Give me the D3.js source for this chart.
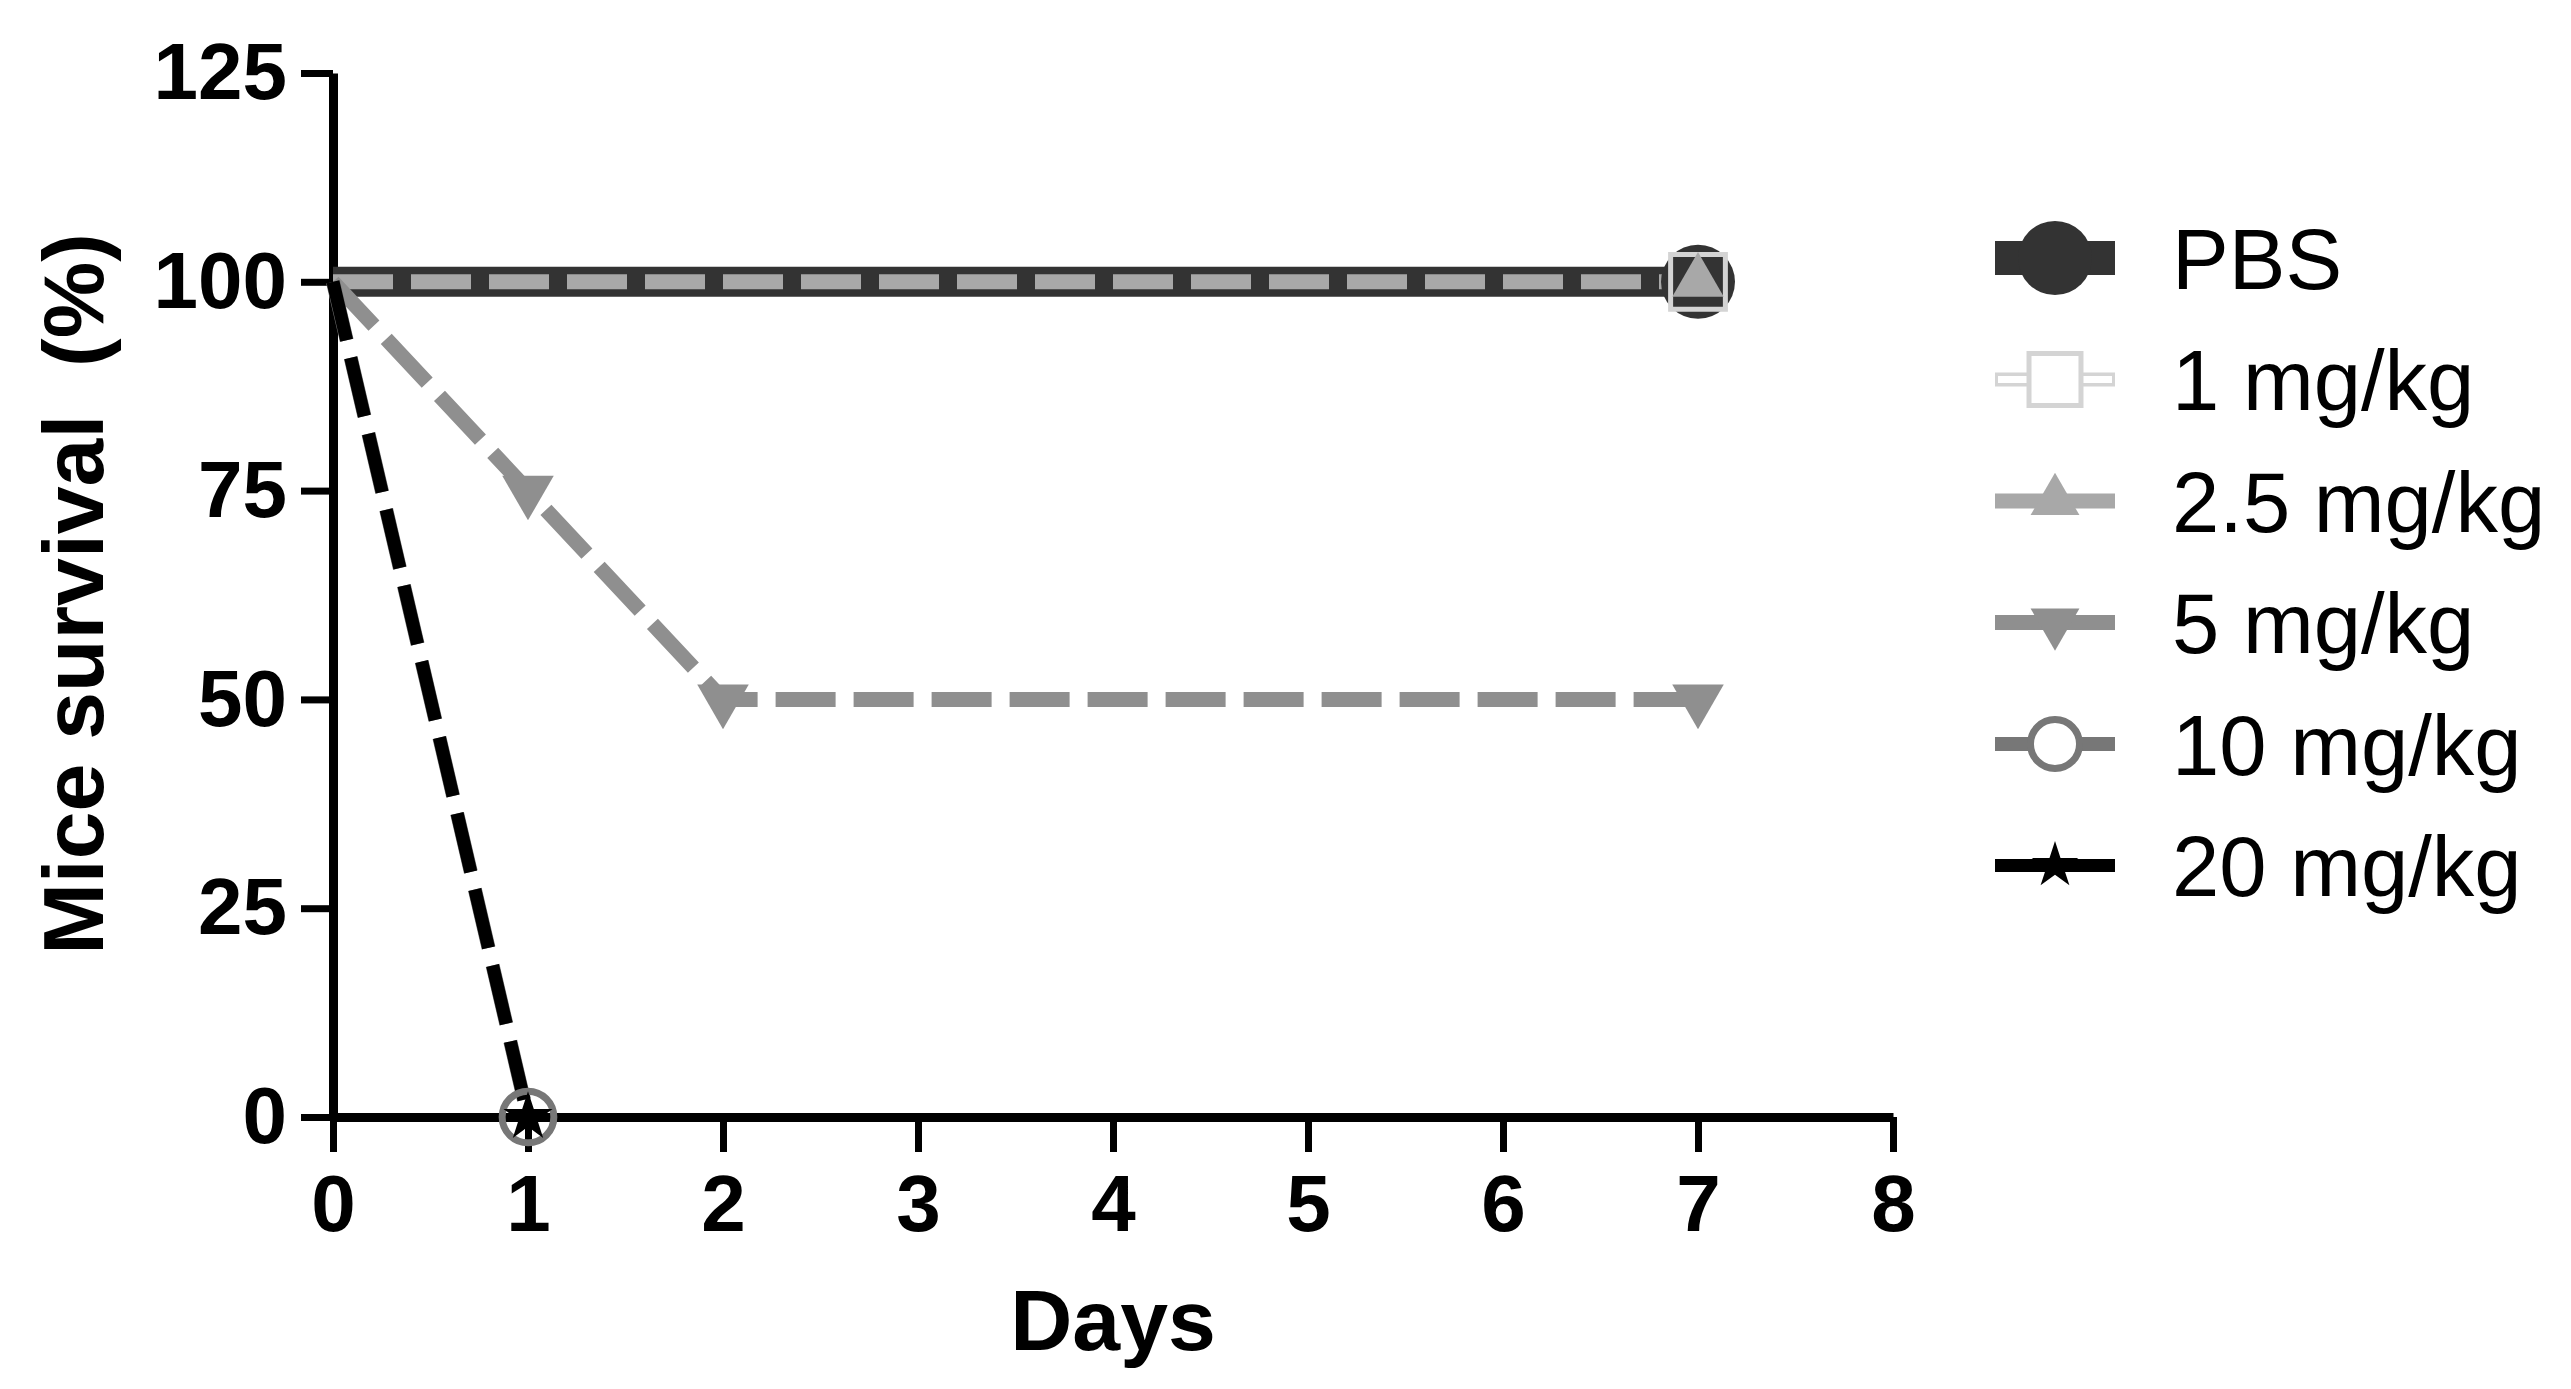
<!DOCTYPE html>
<html lang="en">
<head>
    <meta charset="UTF-8">
    <title>Mice survival</title>
    <script src="https://cdnjs.cloudflare.com/ajax/libs/d3/7.8.5/d3.min.js"></script>
    <style>
        body { margin: 0; background: #fff; }
        svg text { font-family: "Liberation Sans", Arial, sans-serif; fill: #000; }
        .tick-label { font-size: 80px; font-weight: bold; }
        .axis-title { font-size: 86px; font-weight: bold; }
        .legend-text { font-size: 85px; }
    </style>
</head>
<body>
<div id="chart"></div>
<script>
    // Data
    const groups = ["PBS", "1 mg/kg", "2.5 mg/kg", "5 mg/kg", "10 mg/kg", "20 mg/kg"];
    const days = [
        [0, 7],
        [0, 7],
        [0, 7],
        [0, 1, 2, 7],
        [0, 1],
        [0, 1]
    ];
    const survival = [
        [100, 100],
        [100, 100],
        [100, 100],
        [100, 75, 50, 50],
        [100, 0],
        [100, 0]
    ];
    const xTicks = [0, 1, 2, 3, 4, 5, 6, 7, 8];
    const yTicks = [0, 25, 50, 75, 100, 125];

    // look of each group
    const styles = [
        {color: "#333333", width: 30, dash: null, symbol: d3.symbolCircle, size: 4300, fill: "#333333", rotate: 0},
        {color: "#d4d4d4", width: 14, dash: null, symbol: d3.symbolSquare, size: 3000, fill: "none", rotate: 0, hollow: true},
        {color: "#a8a8a8", width: 15, dash: "60,18", symbol: d3.symbolTriangle, size: 1150, fill: "#a8a8a8", rotate: 0},
        {color: "#8f8f8f", width: 15, dash: "60,18", symbol: d3.symbolTriangle, size: 1150, fill: "#8f8f8f", rotate: 180},
        {color: "#777777", width: 14, dash: "60,18", symbol: d3.symbolCircle, size: 2100, fill: "#fff", rotate: 0, open: true},
        {color: "#000000", width: 13, dash: "60,18", symbol: d3.symbolStar, size: 750, fill: "#000", rotate: 0}
    ];

    const W = 2571, H = 1389;
    const svg = d3.select("#chart").append("svg")
        .attr("width", W)
        .attr("height", H);

    const x = d3.scaleLinear().domain([0, 8]).range([333, 1893]);
    const y = d3.scaleLinear().domain([0, 125]).range([1117, 73]);

    // axes
    const xAxis = svg.append("g")
        .attr("transform", `translate(0,${y(0)})`)
        .call(d3.axisBottom(x).tickValues(xTicks).tickSize(35).tickSizeOuter(0).tickPadding(22));
    const yAxis = svg.append("g")
        .attr("transform", `translate(${x(0)},0)`)
        .call(d3.axisLeft(y).tickValues(yTicks).tickSize(32).tickSizeOuter(0).tickPadding(14));

    [xAxis, yAxis].forEach(ax => {
        ax.select(".domain").attr("stroke", "#000").attr("stroke-width", 9);
        ax.selectAll(".tick line").attr("stroke", "#000").attr("stroke-width", 7);
        ax.selectAll(".tick text").attr("class", "tick-label").attr("fill", "#000");
    });
    xAxis.selectAll(".tick text").attr("dy", "0.71em");

    svg.append("text")
        .attr("class", "axis-title")
        .attr("x", 1113)
        .attr("y", 1350)
        .attr("text-anchor", "middle")
        .text("Days");

    svg.append("text")
        .attr("class", "axis-title")
        .attr("transform", "translate(103,594) rotate(-90)")
        .attr("text-anchor", "middle")
        .attr("xml:space", "preserve")
        .text("Mice survival  (%)");

    const line = d3.line().x(d => x(d[0])).y(d => y(d[1]));

    // lines: 1 mg/kg first so it sits under PBS
    const lineOrder = [1, 0, 2, 3, 4, 5];
    lineOrder.forEach(i => {
        const s = styles[i];
        const pts = days[i].map((d, j) => [d, survival[i][j]]);
        svg.append("path")
            .datum(pts)
            .attr("d", line)
            .attr("fill", "none")
            .attr("stroke", s.color)
            .attr("stroke-width", s.width)
            .attr("stroke-dasharray", s.dash);
        if (s.hollow) {
            svg.append("path")
                .datum(pts)
                .attr("d", line)
                .attr("fill", "none")
                .attr("stroke", "#fff")
                .attr("stroke-width", s.width - 7);
        }
    });

    // markers (no symbol at day 0)
    groups.forEach((g, i) => {
        const s = styles[i];
        const pts = days[i].map((d, j) => [d, survival[i][j]]).filter(p => p[0] > 0);
        svg.append("g").selectAll("path")
            .data(pts)
            .enter().append("path")
            .attr("d", d3.symbol().type(s.symbol).size(s.size))
            .attr("transform", p => `translate(${x(p[0])},${y(p[1])}) rotate(${s.rotate})`)
            .attr("fill", s.open ? "none" : s.fill)
            .attr("stroke", s.open || s.hollow ? s.color : "none")
            .attr("stroke-width", s.open ? 7 : 5);
    });

    // legend
    const legend = svg.append("g");
    groups.forEach((g, i) => {
        const s = styles[i];
        const ly = 258 + i * 121.5;
        const row = legend.append("g").attr("transform", `translate(2055,${ly})`);
        row.append("line")
            .attr("x1", -60).attr("x2", 60)
            .attr("stroke", s.color)
            .attr("stroke-width", i === 0 ? 34 : s.width);
        if (s.hollow) {
            row.append("line")
                .attr("x1", -57).attr("x2", 57)
                .attr("stroke", "#fff")
                .attr("stroke-width", s.width - 7);
        }
        row.append("path")
            .attr("d", d3.symbol().type(s.symbol).size(i === 0 ? 4300 : s.size * 0.9))
            .attr("transform", `rotate(${s.rotate})`)
            .attr("fill", s.open ? "#fff" : (s.hollow ? "#fff" : s.fill))
            .attr("stroke", s.open || s.hollow ? s.color : "none")
            .attr("stroke-width", s.open ? 7 : 5);
        row.append("text")
            .attr("class", "legend-text")
            .attr("x", 117)
            .attr("dy", "0.36em")
            .text(g);
    });
</script>
</body>
</html>
